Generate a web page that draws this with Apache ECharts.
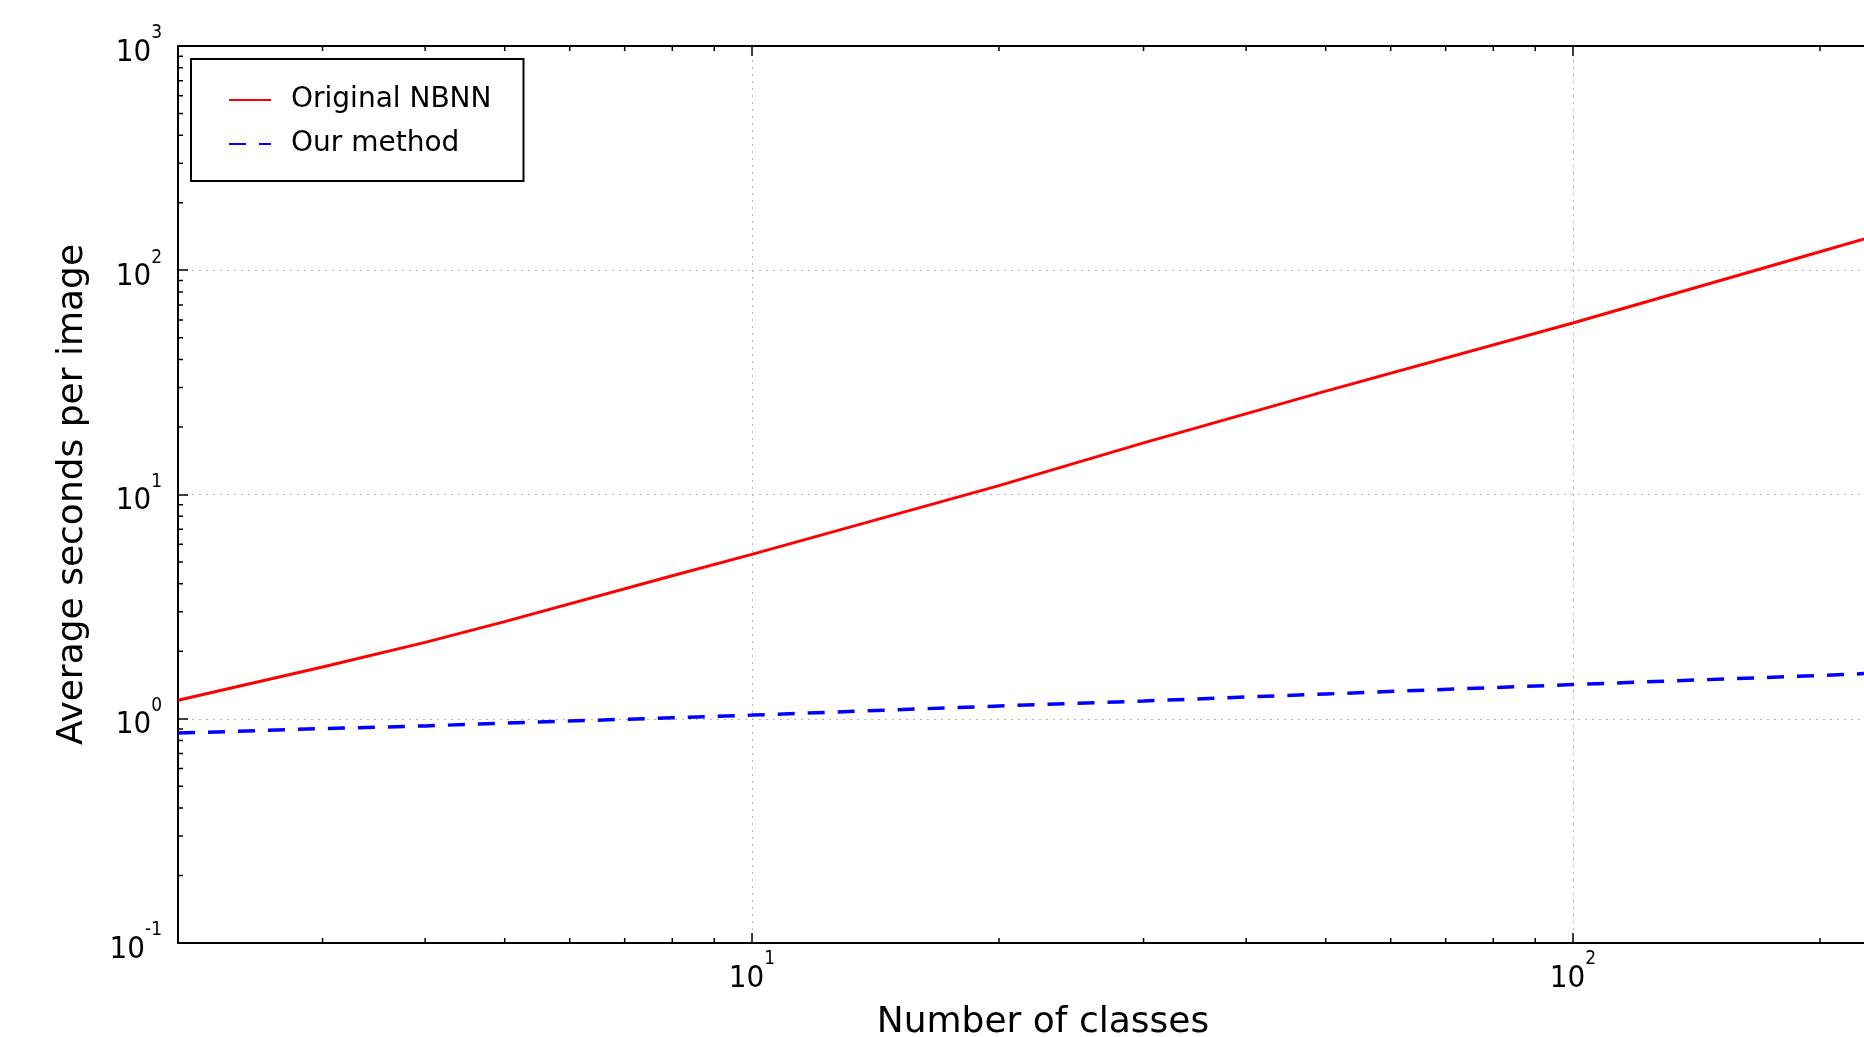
<!DOCTYPE html>
<html>
<head>
<meta charset="utf-8">
<script src="https://cdn.jsdelivr.net/npm/echarts@6/dist/echarts.min.js"></script>
<style>
html,body{margin:0;padding:0;background:#fff;}
#c{width:1864px;height:1037px;}
</style>
</head>
<body>
<div id="c"></div>
<script>
// ---- data ----
const classes      = [2, 3, 4, 5, 8, 10, 20, 30, 50, 100, 200, 256];
const originalNBNN = [1.21, 1.70, 2.19, 2.71, 4.34, 5.41, 10.96, 17.0, 28.9, 58.2, 121, 157];
const ourMethod    = [0.863, 0.904, 0.929, 0.956, 1.01, 1.038, 1.14, 1.20, 1.29, 1.42, 1.56, 1.62];
const seriesNames  = ['Original NBNN', 'Our method'];
const xMinorTicks  = [3, 4, 5, 6, 7, 8, 9, 20, 30, 40, 50, 60, 70, 80, 90, 200];
const yMinorTicks  = [0.2, 0.3, 0.4, 0.5, 0.6, 0.7, 0.8, 0.9,
                      2, 3, 4, 5, 6, 7, 8, 9,
                      20, 30, 40, 50, 60, 70, 80, 90,
                      200, 300, 400, 500, 600, 700, 800, 900];
const xAxisTitle = 'Number of classes';
const yAxisTitle = 'Average seconds per image';

const labelFont = "'Liberation Sans Narrow', 'DejaVu Sans Condensed', 'DejaVu Sans', sans-serif";
const textFont = "'DejaVu Sans', Verdana, sans-serif";

function powLabel(v) {
  const e = Math.round(Math.log10(v));
  if (Math.abs(v - Math.pow(10, e)) > 1e-6 * v) return '';
  return '{b|10}{s|' + e + '}';
}
const richLabel = {
  b: {fontFamily: labelFont, fontSize: 31, lineHeight: 44, verticalAlign: 'bottom', color: '#000'},
  s: {fontFamily: labelFont, fontSize: 19, lineHeight: 19, verticalAlign: 'top', color: '#000'}
};
const tickStyle = {color: '#000', width: 1.5};
const gridLine = {show: true, lineStyle: {color: '#b8b8b8', width: 1, type: [2, 5]}};

const chart = echarts.init(document.getElementById('c'), null, {renderer: 'canvas'});

const option = {
  animation: false,
  backgroundColor: '#fff',
  grid: {left: 178, top: 46, width: 1730, height: 897, containLabel: false, outerBoundsMode: 'none'},
  legend: {
    data: seriesNames,
    orient: 'vertical',
    left: 191, top: 59,
    padding: [27, 32, 23, 37],
    itemWidth: 42, itemHeight: 28, itemGap: 16,
    borderColor: '#000', borderWidth: 2, borderRadius: 0,
    backgroundColor: '#fff',
    itemStyle: {color: 'rgba(0,0,0,0)', borderWidth: 0, opacity: 0},
    textStyle: {fontFamily: textFont, fontSize: 28, color: '#000', padding: [0, 0, 0, 15]}
  },
  xAxis: [{
    type: 'log', logBase: 10, min: 2, max: 256, position: 'bottom',
    axisLine: {show: true, lineStyle: {color: '#000', width: 2}},
    axisTick: {show: true, inside: true, length: 10, lineStyle: tickStyle},
    axisLabel: {formatter: powLabel, rich: richLabel, margin: 7, showMinLabel: false, showMaxLabel: false},
    splitLine: gridLine,
    name: xAxisTitle, nameLocation: 'middle', nameGap: 62,
    nameTextStyle: {fontFamily: textFont, fontSize: 36, color: '#000'}
  }, {
    type: 'log', logBase: 10, min: 2, max: 256, position: 'top',
    axisLine: {show: true, lineStyle: {color: '#000', width: 2}},
    axisTick: {show: true, inside: true, length: 10, lineStyle: tickStyle},
    axisLabel: {show: false},
    splitLine: {show: false}
  }],
  yAxis: [{
    type: 'log', logBase: 10, min: 0.1, max: 1000,
    axisLine: {show: true, lineStyle: {color: '#000', width: 2}},
    axisTick: {show: true, inside: true, length: 10, lineStyle: tickStyle},
    axisLabel: {formatter: powLabel, rich: richLabel, margin: 16},
    splitLine: gridLine,
    name: yAxisTitle, nameLocation: 'middle', nameGap: 87,
    nameTextStyle: {fontFamily: textFont, fontSize: 36, color: '#000'}
  }],
  series: [{
    name: seriesNames[0], type: 'line', xAxisIndex: 0, yAxisIndex: 0,
    data: classes.map((c, i) => [c, originalNBNN[i]]),
    symbol: 'none', z: 4,
    lineStyle: {color: '#ff0000', width: 3},
    itemStyle: {color: '#ff0000'}
  }, {
    name: seriesNames[1], type: 'line', xAxisIndex: 0, yAxisIndex: 0,
    data: classes.map((c, i) => [c, ourMethod[i]]),
    symbol: 'none', z: 4,
    lineStyle: {color: '#0000ff', width: 3.5, type: [17, 13]},
    itemStyle: {color: '#0000ff'}
  }, {
    type: 'custom', xAxisIndex: 0, yAxisIndex: 0, silent: true, z: 5,
    data: xMinorTicks.map(v => [v, 1]),
    encode: {x: 0, y: 1},
    renderItem: function (params, api) {
      const x = api.coord([api.value(0), 1])[0];
      const cs = params.coordSys;
      const yb = cs.y + cs.height, yt = cs.y;
      return {type: 'group', children: [
        {type: 'line', shape: {x1: x, y1: yb, x2: x, y2: yb - 5}, style: {stroke: '#000', lineWidth: 1.5}},
        {type: 'line', shape: {x1: x, y1: yt, x2: x, y2: yt + 5}, style: {stroke: '#000', lineWidth: 1.5}}
      ]};
    }
  }, {
    type: 'custom', xAxisIndex: 0, yAxisIndex: 0, silent: true, z: 5,
    data: yMinorTicks.map(v => [2, v]),
    encode: {x: 0, y: 1},
    renderItem: function (params, api) {
      const y = api.coord([2, api.value(1)])[1];
      const cs = params.coordSys;
      return {type: 'line', shape: {x1: cs.x, y1: y, x2: cs.x + 5, y2: y}, style: {stroke: '#000', lineWidth: 1.5}};
    }
  }]
};
chart.setOption(option);
</script>
</body>
</html>
